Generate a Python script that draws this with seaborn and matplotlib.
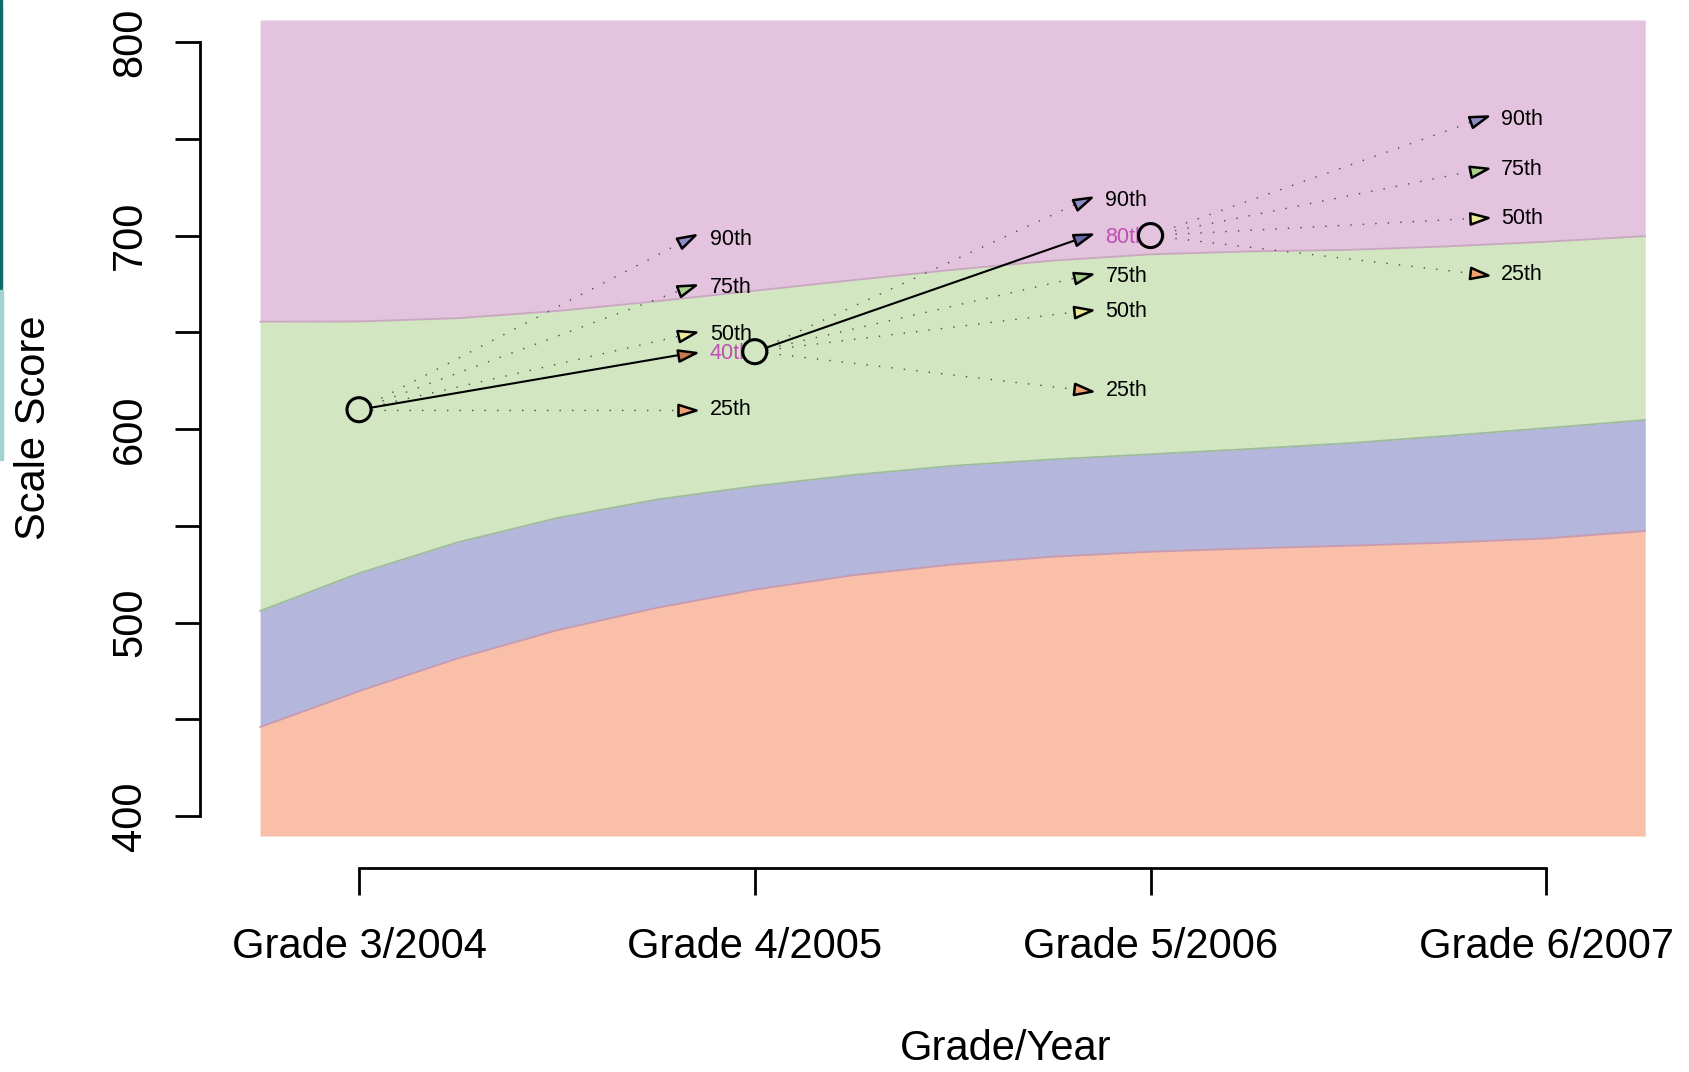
import numpy as np
import pandas as pd
import matplotlib
matplotlib.use('Agg')
import matplotlib.pyplot as plt
import seaborn as sns
from matplotlib.markers import MarkerStyle
from matplotlib.transforms import Affine2D
from matplotlib.path import Path
from matplotlib.patches import Rectangle

# data
grades = ['Grade 3/2004', 'Grade 4/2005', 'Grade 5/2006', 'Grade 6/2007']
grade_pos = [1, 2, 3, 4]
scores = [610, 640, 700]

pct_labels = ['25th', '50th', '75th', '90th']
proj_g3 = [610, 649, 673, 698]
proj_g4 = [620, 661, 679, 718]
proj_g5 = [680, 709, 734, 760]
actual_pct = ['40th', '80th']
actual_end = [639, 699]

# band boundaries (scale score) along the grade axis
band_x = [0.75, 1.0, 1.25, 1.5, 1.75, 2.0, 2.25, 2.5, 2.75, 3.0, 3.25, 3.5, 3.75, 4.0, 4.25]
bound_low = [446, 464.5, 481.5, 496, 507.5, 517, 524.5, 530, 534, 536.6, 538.3, 539.7, 541.3, 543.5, 547.3]
bound_mid = [506, 525.5, 541.5, 554, 563.5, 570.5, 576.3, 581, 584.3, 587, 589.7, 592.7, 596.5, 600.5, 604.7]
bound_high = [655.5, 655.6, 657.3, 661, 666, 671.5, 677, 682.3, 687, 690.3, 691.8, 692.6, 694.4, 696.8, 699.7]

# styles
band_colors = ['#FABFA8', '#B4B6DB', '#D2E6C2', '#E3C3DD']
edge_colors = ['#C99AAE', '#9DBB9D', '#C8A8BE']
pct_fill = {'25th': '#F2A070', '50th': '#EAEA98', '75th': '#A8CF8C', '90th': '#8C8CC4'}
actual_fill = ['#C8784F', '#6A6AAA']
label_pink = '#BE4FB4'
proj_offset = 0.83

sns.set_style('ticks')
plt.rcParams['font.family'] = ['Liberation Sans', 'DejaVu Sans']
plt.rcParams.update({'text.color': 'black', 'axes.labelcolor': 'black',
                     'xtick.color': 'black', 'ytick.color': 'black'})

fig = plt.figure(figsize=(16.9, 10.72), dpi=100)
ax = fig.add_axes([259 / 1690, 1 - 836 / 1072, 1387 / 1690, 816 / 1072])
ax.set_xlim(0.7473, 4.252)
ax.set_ylim(389.7, 811.4)
ylo, yhi = ax.get_ylim()

bands = pd.DataFrame({'x': band_x, 'low': bound_low, 'mid': bound_mid, 'high': bound_high})
layers = [np.full(len(bands), ylo), bands['low'], bands['mid'], bands['high'], np.full(len(bands), yhi)]
for i in range(4):
    ax.fill_between(bands['x'], layers[i], layers[i + 1], color=band_colors[i], lw=0, zorder=0)
for col, ec in zip(['low', 'mid', 'high'], edge_colors):
    sns.lineplot(data=bands, x='x', y=col, ax=ax, color=ec, lw=1.3, zorder=1)

# arrowhead marker
tri = Path([(1, 0), (-1, 0.62), (-1, -0.62), (1, 0)], [Path.MOVETO, Path.LINETO, Path.LINETO, Path.CLOSEPOLY])


def head(x0, y0, x1, y1):
    p0 = ax.transData.transform((x0, y0))
    p1 = ax.transData.transform((x1, y1))
    ang = np.degrees(np.arctan2(p1[1] - p0[1], p1[0] - p0[0]))
    return MarkerStyle(tri, transform=Affine2D().rotate_deg(ang))


projections = [proj_g3, proj_g4, proj_g5]
for g, proj in enumerate(projections):
    x0, y0 = grade_pos[g], scores[g]
    xm = x0 + proj_offset
    for lab, yv in zip(pct_labels, proj):
        ax.plot([x0, xm], [y0, yv], color='#4a4a4a', lw=1.0, linestyle=(0, (1, 8)), zorder=2)
        ax.plot([xm], [yv], marker=head(x0, y0, xm, yv), ms=13, mfc=pct_fill[lab], mec='black',
                mew=1.8, zorder=4)
        ax.annotate(lab, (xm, yv), xytext=(16, 0), textcoords='offset points', ha='left', va='center',
                    fontsize=15.5, color='black', zorder=4)
    if g < len(actual_end):
        ye = actual_end[g]
        traj = pd.DataFrame({'x': [x0, xm], 'y': [y0, ye]})
        sns.lineplot(data=traj, x='x', y='y', ax=ax, color='black', lw=1.5, zorder=3)
        ax.plot([xm], [ye], marker=head(x0, y0, xm, ye), ms=13, mfc=actual_fill[g], mec='black',
                mew=1.8, zorder=4)
        ax.annotate(actual_pct[g], (xm, ye), xytext=(16, 0), textcoords='offset points', ha='left',
                    va='center', fontsize=15.5, color=label_pink, zorder=4)

# observed scores, filled with the band colour they sit in
face = []
for xg, s in zip(grade_pos, scores):
    edges = [np.interp(xg, band_x, b) for b in (bound_low, bound_mid, bound_high)]
    face.append(band_colors[int(np.searchsorted(edges, s))])
pts = pd.DataFrame({'x': grade_pos[:3], 'y': scores})
sns.scatterplot(data=pts, x='x', y='y', ax=ax, s=300, c=face, edgecolor='black', linewidth=2.2, zorder=5)

# axes styling
sns.despine(ax=ax)
ax.spines['left'].set_position(('outward', 42.5))
ax.spines['bottom'].set_position(('outward', 23))
ax.spines['left'].set_bounds(400, 800)
ax.spines['bottom'].set_bounds(1, 4)
for sp in ['left', 'bottom']:
    ax.spines[sp].set_linewidth(2)
    ax.spines[sp].set_color('black')
ax.set_yticks(np.arange(400, 801, 50))
ax.set_yticklabels(['400', '', '500', '', '600', '', '700', '', '800'])
ax.set_xticks(grade_pos)
ax.set_xticklabels(grades)
ax.tick_params(axis='y', length=18, width=2, labelsize=30, pad=18, labelrotation=90)
ax.tick_params(axis='x', length=19.5, width=2, labelsize=30, pad=23)
for t in ax.get_yticklabels():
    t.set_va('center')
ax.set_xlabel('Grade/Year', fontsize=30)
ax.set_ylabel('Scale Score', fontsize=30)
ax.xaxis.set_label_coords(0.538, -0.236)
ax.yaxis.set_label_coords(-0.148, 0.5)
ax.grid(False)

# screenshot edge strip
fig.patches.append(Rectangle((0, 1 - 290 / 1072), 2 / 1690, 290 / 1072, transform=fig.transFigure,
                             color='#0F6B6B', zorder=10))
fig.patches.append(Rectangle((0, 1 - 460 / 1072), 3 / 1690, 170 / 1072, transform=fig.transFigure,
                             color='#9FD3D0', zorder=10))

fig.savefig('out.png', dpi=100)
